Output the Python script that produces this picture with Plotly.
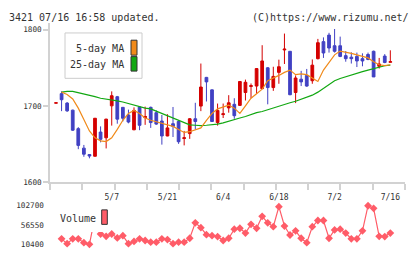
import numpy as np
import plotly.graph_objects as go

# ---------------- data ----------------
idx = list(range(61))
open_ = [1703.5, 1716, 1703.6, 1694.3, 1670, 1644.4, 1636, 1633.7, 1665.5, 1658,
         1700, 1712, 1698, 1688, 1668.5, 1698.5, 1684.5, 1698, 1691, 1680,
         1660.4, 1676.5, 1679.4, 1657, 1663.5, 1683, 1699.7, 1737.4, 1721, 1678,
         1688.5, 1697.3, 1702, 1700.6, 1717.5, 1725.5, 1726, 1722.6, 1750, 1724,
         1744, 1773.5, 1771.7, 1717.5, 1735, 1740, 1733, 1762, 1784.4, 1793,
         1779, 1779, 1766, 1764, 1765, 1762, 1767.5, 1771.7, 1752, 1765.4,
         1757.3]
high = [1704, 1719, 1705, 1695, 1672, 1648.6, 1636.5, 1684, 1673, 1683,
        1719, 1713, 1698.5, 1695, 1698, 1699, 1699, 1699, 1694, 1688,
        1689, 1698.5, 1681, 1667, 1684, 1704, 1755.6, 1738, 1721.5, 1703,
        1703, 1714, 1710, 1732.5, 1734.5, 1729.4, 1749.5, 1779.7, 1751, 1751.4,
        1760.7, 1795, 1772, 1740, 1746, 1748.5, 1761, 1788, 1790, 1796,
        1801, 1791, 1772, 1770.4, 1770, 1769, 1770, 1772.6, 1763, 1768,
        1773]
low = [1703.5, 1693, 1692, 1667, 1643, 1633, 1631, 1633.5, 1652, 1644,
       1674, 1676.5, 1679.5, 1677, 1668, 1668, 1675, 1671, 1675, 1649,
       1660, 1659, 1650, 1648, 1656.6, 1669, 1693, 1705.7, 1679, 1674,
       1684, 1691, 1683, 1700, 1707, 1710, 1716, 1722, 1702, 1719.7,
       1729, 1755, 1714, 1703.6, 1726, 1725, 1729, 1761, 1763, 1770,
       1770, 1764, 1758, 1755.6, 1751, 1752, 1760, 1738, 1749, 1756,
       1757.3]
close = [1704, 1708, 1693.4, 1668, 1648, 1636.4, 1634, 1683.7, 1656, 1682.5,
         1713.3, 1682.5, 1683.7, 1678.7, 1694, 1674.4, 1686, 1678, 1676, 1660.4,
         1671, 1673, 1652.8, 1658, 1683, 1679.4, 1724.7, 1731.5, 1679.4, 1694,
         1689.5, 1704, 1687, 1732, 1731, 1726.5, 1749, 1759, 1724, 1738.7,
         1751.4, 1774.5, 1714.6, 1736.6, 1731.5, 1726, 1753.5, 1783, 1769.5, 1776,
         1771.7, 1765, 1762, 1762, 1759, 1759, 1761, 1738, 1755, 1757,
         1758]
ma5 = [None, 1718, 1715, 1709, 1697, 1682, 1667, 1658, 1654, 1653,
       1658, 1669, 1681, 1690, 1694, 1690, 1684, 1681, 1679, 1678,
       1676, 1673, 1669, 1665, 1666, 1669, 1671, 1681, 1690, 1696,
       1699, 1701, 1697, 1690, 1700, 1710, 1716, 1722, 1733, 1736,
       1740, 1744, 1747, 1741, 1742, 1741, 1737, 1732, 1747, 1757,
       1767, 1772, 1771, 1769, 1767, 1765, 1763, 1758, 1754, 1753,
       1754]
ma25 = [None, 1718, 1719, 1719, 1717.5, 1716, 1714.5, 1712, 1710, 1709,
        1708, 1706.5, 1705, 1703, 1701, 1698, 1697, 1696, 1693, 1690,
        1687, 1684, 1681, 1677, 1675, 1674.5, 1674, 1674.5, 1675, 1676,
        1677.5, 1680, 1682, 1684, 1686, 1689, 1691, 1692.5, 1695, 1697.5,
        1700, 1702, 1704, 1706, 1708.5, 1711, 1714, 1718, 1723, 1729,
        1733, 1736, 1738.5, 1741, 1743, 1745, 1747, 1749, 1751.5, 1752.7,
        1753.5]
volume = [None, 23500, 12000, 23500, 23500, 14300, 10400, 76400, 35100, 29600,
          35100, 25800, 31200, 12000, 17300, 23500, 19600, 15700, 15700, 23500,
          21900, 12000, 15700, 15700, 25000, 61900, 50300, 33500, 31200, 28900,
          19600, 25000, 46600, 48900, 37400, 58200, 48900, 77300, 61900, 52600,
          100400, 54200, 32800, 42700, 25000, 14300, 52600, 67400, 67400, 25000,
          45000, 46600, 37400, 23500, 23500, 42700, 102700, 96500, 29600, 28900,
          37400]
date_pos = [10, 20, 30, 40, 50, 60]
date_labels = ["5/7", "5/21", "6/4", "6/18", "7/2", "7/16"]
price_ticks = [1600, 1700, 1800]
vol_ticks = [10400, 56550, 102700]
vol_tick_labels = ["10400", "56550", "102700"]

# ---------------- styles ----------------
W, H = 420, 259
MONO = "DejaVu Sans Mono"
RED = "#D40000"
BLUE = "#4141C3"
ORANGE = "#F08A1A"
GREEN = "#12A812"
PINK = "#FF5C68"
AX = "#D2D2D2"
TXT = "#333333"

X0, DX = 56.0, 5.572
xr = [(50 - X0) / DX, (405 - X0) / DX]
PX_PER_UNIT = 0.788
yr = [1600, 1800 + 6.7 / PX_PER_UNIT]
eps = 1e-6
minor_vals = list(np.linspace(xr[0] + eps, xr[1] - eps, 12))


def px(x):
    return x / W


def py(y):
    return 1 - y / H


fig = go.Figure()
fig.add_trace(go.Scatter(x=idx, y=ma25, mode="lines", line=dict(color=GREEN, width=1.2),
                         xaxis="x", yaxis="y", hoverinfo="skip"))
fig.add_trace(go.Scatter(x=idx, y=ma5, mode="lines", line=dict(color=ORANGE, width=1.2),
                         xaxis="x", yaxis="y", hoverinfo="skip"))
fig.add_trace(go.Candlestick(
    x=idx, open=open_, high=high, low=low, close=close,
    increasing=dict(line=dict(color=RED, width=1), fillcolor=RED),
    decreasing=dict(line=dict(color=BLUE, width=1), fillcolor=BLUE),
    whiskerwidth=0, xaxis="x", yaxis="y", hoverinfo="skip"))
fig.add_trace(go.Scatter(
    x=idx, y=volume, mode="lines+markers",
    line=dict(color=PINK, width=1.2),
    marker=dict(symbol="diamond", size=6, color=PINK),
    xaxis="x2", yaxis="y2", cliponaxis=False, hoverinfo="skip"))

shapes = [
    # MA legend box
    dict(type="rect", xref="paper", yref="paper", x0=px(65), x1=px(142), y0=py(77), y1=py(30),
         line=dict(color="#CCCCCC", width=1), fillcolor="white", layer="above"),
    dict(type="rect", xref="paper", yref="paper", x0=px(131), x1=px(137), y0=py(53), y1=py(37.5),
         line=dict(color="#333333", width=1), fillcolor=ORANGE, layer="above"),
    dict(type="rect", xref="paper", yref="paper", x0=px(131), x1=px(137), y0=py(69.5), y1=py(54.5),
         line=dict(color="#333333", width=1), fillcolor=GREEN, layer="above"),
    # Volume legend background + swatch
    dict(type="rect", xref="paper", yref="paper", x0=px(55), x1=px(110), y0=py(236.3), y1=py(205),
         line=dict(width=0), fillcolor="white", layer="above"),
    dict(type="rect", xref="paper", yref="paper", x0=px(101.7), x1=px(107.3), y0=py(228.3), y1=py(213.3),
         line=dict(color="#333333", width=1), fillcolor=PINK, layer="above"),
]

ann = [
    dict(text="3421 07/16 16:58 updated.", x=px(6.5), y=py(13.5), xanchor="left", yanchor="middle"),
    dict(text="(C)https://www.rizumu.net/", x=px(410.5), y=py(13.5), xanchor="right", yanchor="middle"),
    dict(text="5-day MA", x=px(125.5), y=py(46), xanchor="right", yanchor="middle"),
    dict(text="25-day MA", x=px(125.5), y=py(62.5), xanchor="right", yanchor="middle"),
    dict(text="Volume", x=px(58), y=py(222.3), xanchor="left", yanchor="middle"),
]
annotations = []
for a in ann:
    a.update(xref="paper", yref="paper", showarrow=False,
             font=dict(family=MONO, size=10, color=TXT))
    annotations.append(a)

fig.update_layout(
    width=W, height=H, margin=dict(l=0, r=0, t=0, b=0),
    paper_bgcolor="white", plot_bgcolor="white", showlegend=False,
    shapes=shapes, annotations=annotations,
    xaxis=dict(domain=[px(50), px(405)], range=xr, anchor="y",
               rangeslider=dict(visible=False), showgrid=False, zeroline=False,
               showline=True, linecolor=AX, linewidth=1.5,
               tickmode="array", tickvals=date_pos, ticktext=date_labels,
               ticks="outside", ticklen=7, tickcolor="rgba(0,0,0,0)",
               tickfont=dict(family=MONO, size=8, color=TXT),
               minor=dict(tickmode="array", tickvals=minor_vals, ticks="outside",
                          ticklen=6, tickwidth=1.5, tickcolor=AX, showgrid=False),
               fixedrange=True),
    yaxis=dict(domain=[py(184.3), py(20)], range=yr, anchor="x",
               showgrid=False, zeroline=False, showline=True, linecolor=AX, linewidth=1.5,
               tickmode="array", tickvals=price_ticks, ticktext=[str(v) for v in price_ticks],
               ticks="outside", ticklen=5, tickwidth=1.5, tickcolor=AX,
               tickfont=dict(family=MONO, size=7.7, color=TXT), fixedrange=True),
    xaxis2=dict(domain=[px(50), px(405)], range=xr, anchor="y2", visible=False, fixedrange=True),
    yaxis2=dict(domain=[py(249), py(209)], range=[vol_ticks[0], vol_ticks[-1]], anchor="x2",
                showgrid=False, zeroline=False, showline=False, ticks="",
                ticklabelstandoff=5,
                tickmode="array", tickvals=vol_ticks, ticktext=vol_tick_labels,
                tickfont=dict(family=MONO, size=7.7, color=TXT), fixedrange=True),
)

fig.write_html("out.html")
